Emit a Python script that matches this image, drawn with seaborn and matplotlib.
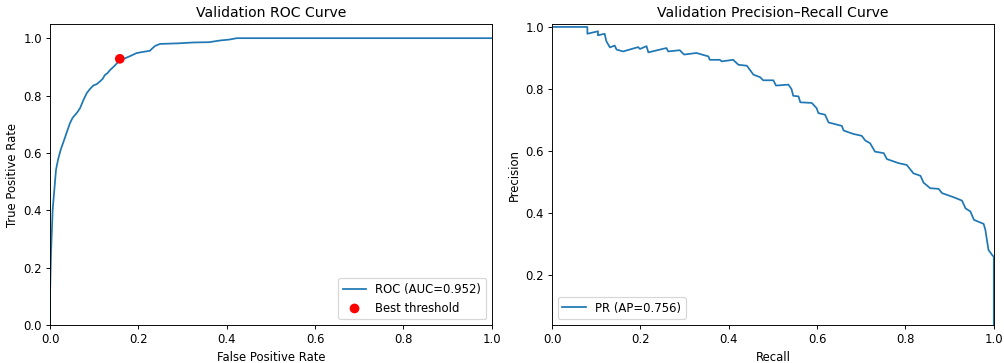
import matplotlib
matplotlib.use('Agg')
import matplotlib.pyplot as plt
import seaborn as sns

# ROC curve points
roc_fpr = [0.0, 0.0, 0.0023, 0.006, 0.0136, 0.018, 0.024, 0.032, 0.038, 0.045,
           0.051, 0.057, 0.062, 0.068, 0.075, 0.083, 0.090, 0.098, 0.106, 0.113,
           0.119, 0.1245, 0.130, 0.136, 0.145, 0.155, 0.160, 0.170, 0.182, 0.196,
           0.210, 0.226, 0.232, 0.238, 0.249, 0.290, 0.324, 0.360, 0.385, 0.405,
           0.423, 1.0]
roc_tpr = [0.0, 0.10, 0.25, 0.401, 0.541, 0.575, 0.61, 0.645, 0.672, 0.703,
           0.722, 0.733, 0.742, 0.756, 0.782, 0.808, 0.822, 0.835, 0.840, 0.849,
           0.858, 0.872, 0.878, 0.889, 0.902, 0.918, 0.926, 0.930, 0.938, 0.948,
           0.952, 0.956, 0.965, 0.973, 0.980, 0.982, 0.985, 0.986, 0.992, 0.995,
           1.0, 1.0]
best_fpr = [0.158]
best_tpr = [0.928]
roc_auc = 0.952

# Precision-recall curve points
pr_recall = [0.0, 0.080, 0.080, 0.104, 0.104, 0.119, 0.123, 0.131, 0.142, 0.146,
             0.161, 0.195, 0.199, 0.214, 0.218, 0.259, 0.263, 0.289, 0.299, 0.327,
             0.354, 0.357, 0.380, 0.384, 0.410, 0.422, 0.441, 0.456, 0.471, 0.478,
             0.501, 0.507, 0.535, 0.542, 0.546, 0.558, 0.562, 0.588, 0.599, 0.603,
             0.618, 0.626, 0.656, 0.660, 0.682, 0.701, 0.709, 0.720, 0.731, 0.751,
             0.758, 0.784, 0.803, 0.818, 0.834, 0.841, 0.856, 0.875, 0.883, 0.909,
             0.928, 0.936, 0.947, 0.955, 0.977, 0.981, 0.985, 0.988, 0.996, 1.0,
             1.0]
pr_precision = [1.0, 1.0, 0.978, 0.986, 0.973, 0.978, 0.954, 0.934, 0.940, 0.927,
                0.921, 0.935, 0.929, 0.938, 0.918, 0.932, 0.921, 0.925, 0.911, 0.916,
                0.905, 0.894, 0.894, 0.889, 0.894, 0.878, 0.875, 0.846, 0.838, 0.828,
                0.828, 0.811, 0.814, 0.800, 0.778, 0.776, 0.757, 0.755, 0.738, 0.722,
                0.717, 0.692, 0.681, 0.666, 0.655, 0.649, 0.634, 0.625, 0.598, 0.593,
                0.574, 0.561, 0.555, 0.528, 0.520, 0.498, 0.480, 0.478, 0.464, 0.451,
                0.440, 0.415, 0.405, 0.378, 0.365, 0.345, 0.308, 0.281, 0.265, 0.259,
                0.039]
pr_ap = 0.756

fig = plt.figure(figsize=(12, 4.34), dpi=83.67)
ax1 = fig.add_axes([0.0498, 0.1047, 0.44, 0.8293])
ax2 = fig.add_axes([0.5498, 0.1047, 0.44, 0.8293])

sns.lineplot(x=roc_fpr, y=roc_tpr, sort=False, estimator=None, ax=ax1,
             color='#1f77b4', label=f'ROC (AUC={roc_auc:.3f})')
sns.scatterplot(x=best_fpr, y=best_tpr, ax=ax1, color='red', s=70,
                edgecolor='none', zorder=3, label='Best threshold')
ax1.set_xlim(0, 1)
ax1.set_ylim(0, 1.05)
ax1.set_xlabel('False Positive Rate')
ax1.set_ylabel('True Positive Rate')
ax1.set_title('Validation ROC Curve')
ax1.legend(loc='lower right')

sns.lineplot(x=pr_recall, y=pr_precision, sort=False, estimator=None, ax=ax2,
             color='#1f77b4', label=f'PR (AP={pr_ap:.3f})')
ax2.set_xlim(0, 1)
ax2.set_ylim(0.039, 1.01)
ax2.set_xlabel('Recall')
ax2.set_ylabel('Precision')
ax2.set_title('Validation Precision\u2013Recall Curve')
ax2.legend(loc='lower left')

fig.savefig('out.png', dpi=83.67)
plt.close(fig)
